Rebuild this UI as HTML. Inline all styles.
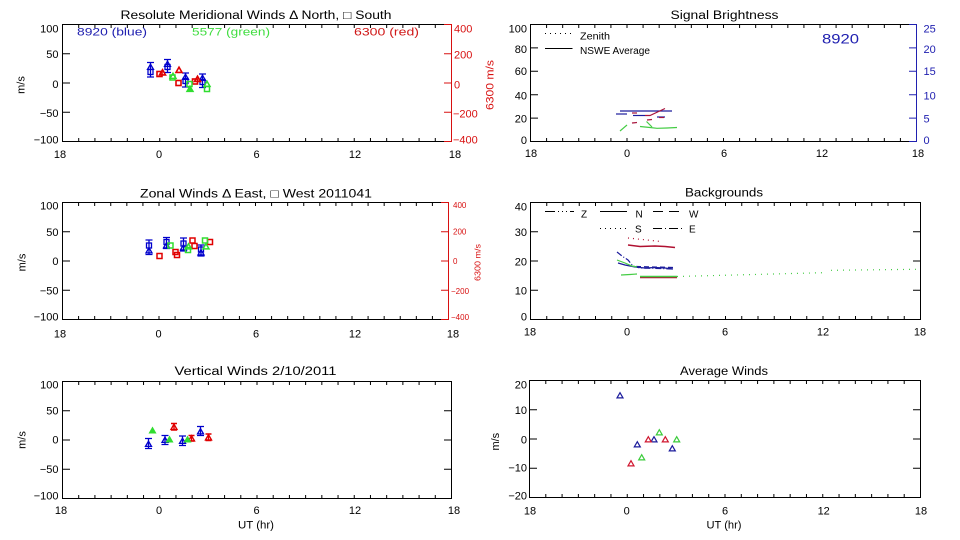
<!DOCTYPE html>
<html><head><meta charset="utf-8"><style>
html,body{margin:0;padding:0;background:#fff;}
svg{display:block;}
</style></head><body>
<svg width="960" height="540" viewBox="0 0 960 540" xmlns="http://www.w3.org/2000/svg" font-family="'Liberation Sans','DejaVu Sans',sans-serif" font-size="11">
<defs>
<path id="t" d="M0,-2.8 L3,2.4 L-3,2.4 Z" fill="none"/>
<path id="tf" d="M0,-2.8 L3,2.4 L-3,2.4 Z"/>
<rect id="s" x="-2.5" y="-2.5" width="5" height="5" fill="none"/>
</defs>
<rect width="960" height="540" fill="#fff"/>

<!-- ================= TOP LEFT ================= -->
<g fill="none" stroke="#000" stroke-width="1">
<path d="M451.5,24.5 H62.5 V141.5 H451.5"/>
<line x1="62" y1="139.5" x2="452" y2="139.5" stroke-width="3" stroke-dasharray="1 15.2083"/>
<line x1="62" y1="26.5" x2="452" y2="26.5" stroke-width="3" stroke-dasharray="1 15.2083"/>
<line x1="66.5" y1="24" x2="66.5" y2="142" stroke-width="7" stroke-dasharray="1 28.25"/>
</g>
<g fill="none" stroke="#d81010">
<line x1="451.5" y1="24" x2="451.5" y2="142"/>
<line x1="447.5" y1="24" x2="447.5" y2="142" stroke-width="7" stroke-dasharray="1 28.25"/>
</g>
<text x="256" y="19" text-anchor="middle" textLength="271" lengthAdjust="spacingAndGlyphs" font-size="11.5">Resolute Meridional Winds Δ North, □ South</text>
<g text-anchor="end">
<text x="58.5" y="32.6">100</text><text x="58.5" y="57.8">50</text><text x="58.5" y="87.8">0</text><text x="58.5" y="117">−50</text><text x="58.5" y="143.5">−100</text>
</g>
<g fill="#d81010">
<text x="454" y="32.6">400</text><text x="454" y="58.6">200</text><text x="454" y="88.6">0</text><text x="453" y="117.6">−200</text><text x="453" y="143.5">−400</text>
<text transform="translate(493.5,85) rotate(-90)" text-anchor="middle" textLength="50" lengthAdjust="spacingAndGlyphs">6300 m/s</text>
</g>
<g text-anchor="middle">
<text x="60" y="158">18</text><text x="159" y="158">0</text><text x="256.5" y="158">6</text><text x="355" y="158">12</text><text x="455" y="158">18</text>
</g>
<text transform="translate(24.5,85) rotate(-90)" text-anchor="middle">m/s</text>
<text x="77" y="35.7" fill="#2020b0" textLength="70" lengthAdjust="spacingAndGlyphs">8920 (blue)</text>
<text x="192" y="35.7" fill="#40dd40" textLength="78" lengthAdjust="spacingAndGlyphs">5577 (green)</text>
<text x="354" y="35.7" fill="#d01818" textLength="65" lengthAdjust="spacingAndGlyphs">6300 (red)</text>
<!-- TL data -->
<g stroke="#0000cc" stroke-width="1.3" fill="none">
<path d="M150.5,62.5V77M147,62.5H154M147,77H154"/>
<path d="M167.5,59.5V72.5M164,59.5H171M164,72.5H171"/>
<path d="M185.5,73V87M182,73H189M182,87H189"/>
<path d="M202.5,74V87.5M199,74H206M199,87.5H206"/>
<use href="#s" x="150.5" y="72"/><use href="#t" x="150.5" y="67"/>
<use href="#s" x="167.5" y="67"/><use href="#t" x="167.5" y="64"/>
<use href="#s" x="185.5" y="81"/><use href="#t" x="185.5" y="77"/>
<use href="#s" x="202.5" y="82"/><use href="#t" x="202.5" y="78"/>
</g>
<g stroke="#e00000" stroke-width="1.6" fill="none">
<use href="#s" x="159.5" y="74"/><use href="#t" x="162.5" y="72.5"/>
<use href="#t" x="179" y="70"/><use href="#s" x="178.5" y="83"/>
<use href="#s" x="195" y="81.5"/><use href="#t" x="197.5" y="79"/>
</g>
<g stroke="#30dd30" stroke-width="1.5" fill="none">
<use href="#s" x="172.5" y="77.5"/><use href="#t" x="173" y="76"/>
<use href="#s" x="189.5" y="84"/><use href="#tf" x="190" y="89" fill="#30dd30"/>
<use href="#t" x="207" y="84"/><use href="#s" x="207" y="89"/>
</g>

<!-- ================= MIDDLE LEFT ================= -->
<g fill="none" stroke="#000" stroke-width="1">
<path d="M448.5,202.5 H62.5 V319.5 H448.5"/>
<line x1="62" y1="317.5" x2="449" y2="317.5" stroke-width="3" stroke-dasharray="1 15.0833"/>
<line x1="62" y1="204.5" x2="449" y2="204.5" stroke-width="3" stroke-dasharray="1 15.0833"/>
<line x1="66.5" y1="202" x2="66.5" y2="320" stroke-width="7" stroke-dasharray="1 28.25"/>
</g>
<g fill="none" stroke="#d81010">
<line x1="448.5" y1="202" x2="448.5" y2="320"/>
<line x1="444.5" y1="202" x2="444.5" y2="320" stroke-width="7" stroke-dasharray="1 28.25"/>
</g>
<text x="256" y="197.3" text-anchor="middle" textLength="232" lengthAdjust="spacingAndGlyphs" font-size="11.5">Zonal Winds Δ East, □ West 2011041</text>
<g text-anchor="end">
<text x="58.5" y="209.5">100</text><text x="58.5" y="236">50</text><text x="58.5" y="265">0</text><text x="58.5" y="294.5">−50</text><text x="58.5" y="320.7">−100</text>
</g>
<g fill="#d81010" font-size="8">
<text x="453" y="207.8">400</text><text x="453" y="234.5">200</text><text x="453" y="263.8">0</text><text x="451" y="293.8">−200</text><text x="451" y="320">−400</text>
<text transform="translate(480.5,262.5) rotate(-90)" text-anchor="middle" textLength="37" lengthAdjust="spacingAndGlyphs">6300 m/s</text>
</g>
<g text-anchor="middle">
<text x="60" y="337.3">18</text><text x="158.5" y="337.3">0</text><text x="256" y="337.3">6</text><text x="355" y="337.3">12</text><text x="453" y="337.3">18</text>
</g>
<text transform="translate(25.5,262.5) rotate(-90)" text-anchor="middle">m/s</text>
<!-- ML data -->
<g stroke="#0000cc" stroke-width="1.3" fill="none">
<path d="M149,240V254.5M145.5,240H152.5M145.5,254.5H152.5"/>
<path d="M166.5,237.5V248.5M163,237.5H170M163,248.5H170"/>
<path d="M183.5,238V251M180,238H187M180,251H187"/>
<path d="M201,245V256M197.5,245H204.5M197.5,256H204.5"/>
<use href="#s" x="149" y="245.5"/><use href="#t" x="149" y="250.5"/>
<use href="#s" x="166.5" y="242"/><use href="#t" x="166.5" y="245.5"/>
<use href="#s" x="183.5" y="243.5"/><use href="#t" x="183.5" y="247.5"/>
<use href="#s" x="201" y="249.5"/><use href="#t" x="201" y="252.5"/>
</g>
<g stroke="#e00000" stroke-width="1.5" fill="none">
<use href="#s" x="159.5" y="256"/>
<use href="#s" x="175.5" y="252"/><use href="#s" x="177" y="255"/>
<use href="#s" x="192.5" y="240.5"/><use href="#s" x="194.5" y="246"/>
<use href="#s" x="210" y="242"/>
</g>
<g stroke="#30dd30" stroke-width="1.5" fill="none">
<use href="#s" x="170.5" y="245.5"/>
<use href="#s" x="188" y="250"/><use href="#t" x="188.5" y="246.5"/>
<use href="#s" x="205" y="240.5"/><use href="#t" x="206" y="246.5"/>
</g>

<!-- ================= BOTTOM LEFT ================= -->
<g fill="none" stroke="#000" stroke-width="1">
<rect x="62.5" y="381.5" width="389" height="117"/>
<line x1="62" y1="496.5" x2="452" y2="496.5" stroke-width="3" stroke-dasharray="1 15.2083"/>
<line x1="62" y1="383.5" x2="452" y2="383.5" stroke-width="3" stroke-dasharray="1 15.2083"/>
<line x1="66.5" y1="381" x2="66.5" y2="499" stroke-width="7" stroke-dasharray="1 28.25"/>
<line x1="447.5" y1="381" x2="447.5" y2="499" stroke-width="7" stroke-dasharray="1 28.25"/>
</g>
<text x="255.5" y="375" text-anchor="middle" textLength="162" lengthAdjust="spacingAndGlyphs" font-size="11.5">Vertical Winds 2/10/2011</text>
<g text-anchor="end">
<text x="58.5" y="388.5">100</text><text x="58.5" y="414.3">50</text><text x="58.5" y="443.7">0</text><text x="58.5" y="473">−50</text><text x="58.5" y="499.5">−100</text>
</g>
<g text-anchor="middle">
<text x="61" y="514">18</text><text x="159" y="514">0</text><text x="256.5" y="514">6</text><text x="355" y="514">12</text><text x="454" y="514">18</text>
</g>
<text x="256" y="528.3" text-anchor="middle" textLength="36" lengthAdjust="spacingAndGlyphs">UT (hr)</text>
<text transform="translate(25.5,440) rotate(-90)" text-anchor="middle">m/s</text>
<!-- BL data -->
<g stroke="#0000cc" stroke-width="1.3" fill="none">
<path d="M148.5,438.5V448.5M145,438.5H152M145,448.5H152"/>
<path d="M165,435.5V444.5M161.5,435.5H168.5M161.5,444.5H168.5"/>
<path d="M182.5,436V445.5M179,436H186M179,445.5H186"/>
<path d="M200.5,426.5V435.5M197,426.5H204M197,435.5H204"/>
<use href="#t" x="148.5" y="444"/><use href="#t" x="165" y="440"/><use href="#t" x="182.5" y="441"/><use href="#t" x="200.5" y="431.5"/>
</g>
<g stroke="#e00000" stroke-width="1.4" fill="none">
<path d="M174,423.5V430M171,423.5H177M171,430H177"/>
<path d="M191.5,435.5V441M188.5,435.5H194.5M188.5,441H194.5"/>
<path d="M208.5,434V440.5M205.5,434H211.5M205.5,440.5H211.5"/>
<use href="#t" x="174" y="427"/><use href="#t" x="191.5" y="438.5"/><use href="#t" x="208.5" y="437.5"/>
</g>
<g stroke="#30dd30" stroke-width="1.2" fill="#30dd30">
<use href="#tf" x="152.5" y="430.5"/><use href="#tf" x="169.5" y="439.5"/><use href="#tf" x="187.5" y="439.5"/>
</g>

<!-- ================= TOP RIGHT ================= -->
<g fill="none" stroke="#000" stroke-width="1">
<path d="M916.5,24.5 H530.5 V141.5 H916.5"/>
<line x1="530" y1="139.5" x2="917" y2="139.5" stroke-width="3" stroke-dasharray="1 15.0833"/>
<line x1="530" y1="26.5" x2="917" y2="26.5" stroke-width="3" stroke-dasharray="1 15.0833"/>
<line x1="534.5" y1="24" x2="534.5" y2="142" stroke-width="7" stroke-dasharray="1 22.4"/>
</g>
<g fill="none" stroke="#2020b0">
<line x1="916.5" y1="24" x2="916.5" y2="142"/>
<line x1="912.5" y1="24" x2="912.5" y2="142" stroke-width="7" stroke-dasharray="1 22.4"/>
</g>
<text x="724.5" y="19" text-anchor="middle" textLength="108" lengthAdjust="spacingAndGlyphs" font-size="11.5">Signal Brightness</text>
<g text-anchor="end">
<text x="527" y="32.6">100</text><text x="527" y="53">80</text><text x="527" y="75">60</text><text x="527" y="99.3">40</text><text x="527" y="122.3">20</text><text x="527" y="144">0</text>
</g>
<g fill="#2020b0">
<text x="923.5" y="32.6">25</text><text x="923.5" y="53">20</text><text x="923.5" y="75">15</text><text x="923.5" y="99.3">10</text><text x="923.5" y="122.3">5</text><text x="923.5" y="144">0</text>
<text x="822" y="43.3" font-size="14" textLength="37" lengthAdjust="spacingAndGlyphs">8920</text>
</g>
<g text-anchor="middle">
<text x="531" y="157">18</text><text x="627" y="157">0</text><text x="724" y="157">6</text><text x="822" y="157">12</text><text x="918" y="157">18</text>
</g>
<g stroke="#000" fill="none">
<line x1="545" y1="33.5" x2="571" y2="33.5" stroke-dasharray="1 4"/>
<line x1="545" y1="48.5" x2="572.5" y2="48.5"/>
</g>
<text x="580" y="39.3" font-size="10" textLength="30" lengthAdjust="spacingAndGlyphs">Zenith</text>
<text x="580" y="54" font-size="10" textLength="70" lengthAdjust="spacingAndGlyphs">NSWE Average</text>
<!-- TR data -->
<g fill="none" stroke-width="1.2">
<g stroke="#1c1c9c">
<path d="M616,114H627"/><path d="M620,111H672"/><path d="M633,115.5H645"/><path d="M657,117H665"/>
</g>
<g stroke="#a8143c">
<path d="M645,115.5L650,115.5L665,108.5"/><path d="M632,113H637"/><path d="M647,120L652,119.5"/><path d="M632,123L637,122.5"/><path d="M659,117.5H664"/>
</g>
<g stroke="#44cc44">
<path d="M620,131L627,125"/><path d="M640,126.5L650,127.5L657,128.3L667,128L677,127.5"/><path d="M646.5,121.5L652,127"/>
</g>
</g>

<!-- ================= MIDDLE RIGHT ================= -->
<g fill="none" stroke="#000" stroke-width="1">
<rect x="530.5" y="202.5" width="390" height="117"/>
<line x1="530" y1="317.5" x2="921" y2="317.5" stroke-width="3" stroke-dasharray="1 15.25"/>
<line x1="530" y1="204.5" x2="921" y2="204.5" stroke-width="3" stroke-dasharray="1 15.25"/>
<line x1="534.5" y1="202" x2="534.5" y2="320" stroke-width="7" stroke-dasharray="1 28.25"/>
<line x1="916.5" y1="202" x2="916.5" y2="320" stroke-width="7" stroke-dasharray="1 28.25"/>
</g>
<text x="724" y="196.7" text-anchor="middle" textLength="78" lengthAdjust="spacingAndGlyphs" font-size="11.5">Backgrounds</text>
<g text-anchor="end">
<text x="527" y="210.7">40</text><text x="527" y="236">30</text><text x="527" y="265.5">20</text><text x="527" y="294.5">10</text><text x="527" y="320.7">0</text>
</g>
<g text-anchor="middle">
<text x="530" y="335.5">18</text><text x="627" y="335.5">0</text><text x="725" y="335.5">6</text><text x="823" y="335.5">12</text><text x="920" y="335.5">18</text>
</g>
<g stroke="#000" fill="none">
<line x1="545" y1="211.5" x2="574" y2="211.5" stroke-dasharray="10 3 1 3 1 3 1 3"/>
<line x1="600" y1="211.5" x2="627" y2="211.5"/>
<line x1="653" y1="211.5" x2="684" y2="211.5" stroke-dasharray="10 6"/>
<line x1="600" y1="228.5" x2="627" y2="228.5" stroke-dasharray="1 4"/>
<line x1="653" y1="228.5" x2="684" y2="228.5" stroke-dasharray="9 3 1 3"/>
</g>
<g font-size="10">
<text x="581" y="217.7">Z</text><text x="635.5" y="217.7">N</text><text x="689" y="217.7">W</text>
<text x="635" y="232.3">S</text><text x="689" y="232.3">E</text>
</g>
<!-- MR data -->
<g fill="none" stroke-width="1.2">
<path d="M628,238L661,241.5" stroke="#b01030" stroke-dasharray="1 4"/>
<path d="M628,245L640,246.5L655,246L665,246.5L675,247.5" stroke="#b01030" stroke-width="1.5"/>
<path d="M617,252L622,256L628,260L633,266L640,268L660,268.5L673,269" stroke="#1c1c9c" stroke-dasharray="6 2 1 2"/>
<path d="M618,263L625,265L635,267L645,268L655,267.5L665,268L673,269" stroke="#1c1c9c"/>
<path d="M636,266.5L673,267.5" stroke="#1c1c9c" stroke-dasharray="5 3"/>
<path d="M617,260L625,263L632,266L637,267" stroke="#44cc44"/>
<path d="M621,275L630,274.5L637,274" stroke="#44cc44"/>
<path d="M640,277.5L677,277.5" stroke="#b01030" stroke-width="1.5"/>
<path d="M640,276.5L677,276.5" stroke="#44cc44" stroke-width="1.5"/>
<path d="M677,276.5L823,272.7M831,270.3L917,269.3" stroke="#44cc44" stroke-dasharray="1 5"/>
</g>

<!-- ================= BOTTOM RIGHT ================= -->
<g fill="none" stroke="#000" stroke-width="1">
<rect x="529.5" y="380.5" width="391" height="117"/>
<line x1="529" y1="495.5" x2="921" y2="495.5" stroke-width="3" stroke-dasharray="1 15.2917"/>
<line x1="529" y1="382.5" x2="921" y2="382.5" stroke-width="3" stroke-dasharray="1 15.2917"/>
<line x1="533.5" y1="380" x2="533.5" y2="498" stroke-width="7" stroke-dasharray="1 28.25"/>
<line x1="916.5" y1="380" x2="916.5" y2="498" stroke-width="7" stroke-dasharray="1 28.25"/>
</g>
<text x="724" y="375" text-anchor="middle" textLength="88" lengthAdjust="spacingAndGlyphs" font-size="11.5">Average Winds</text>
<g text-anchor="end">
<text x="527" y="388.3">20</text><text x="527" y="414">10</text><text x="527" y="443.3">0</text><text x="527" y="471.7">−10</text><text x="527" y="499.3">−20</text>
</g>
<g text-anchor="middle">
<text x="530" y="514.3">18</text><text x="626.7" y="514.3">0</text><text x="725" y="514.3">6</text><text x="823.7" y="514.3">12</text><text x="921" y="514.3">18</text>
</g>
<text x="724" y="528.3" text-anchor="middle" textLength="35" lengthAdjust="spacingAndGlyphs">UT (hr)</text>
<text transform="translate(499,441.7) rotate(-90)" text-anchor="middle">m/s</text>
<g fill="none" stroke-width="1.2">
<g stroke="#1c1c9c">
<use href="#t" x="620" y="395.5"/><use href="#t" x="637.3" y="444.5"/><use href="#t" x="654" y="439.5"/><use href="#t" x="672.3" y="448.5"/>
</g>
<g stroke="#d01830">
<use href="#t" x="631" y="463.5"/><use href="#t" x="648.3" y="439.5"/><use href="#t" x="665.3" y="439.5"/>
</g>
<g stroke="#3ccc3c">
<use href="#t" x="641.7" y="457.5"/><use href="#t" x="659.3" y="432.5"/><use href="#t" x="676.7" y="439.5"/>
</g>
</g>
</svg>
</body></html>
